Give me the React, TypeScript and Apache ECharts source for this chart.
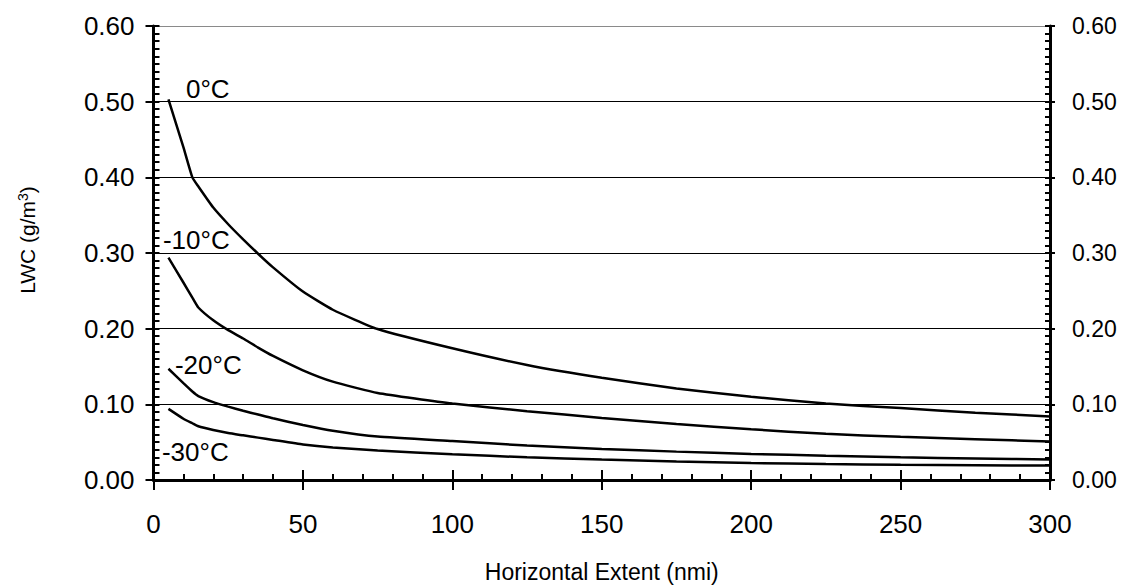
import React, { useEffect, useRef } from "react";
import * as echarts from "echarts";

const extent = [5, 10, 13, 15, 20, 25, 30, 35, 40, 50, 60, 75, 100, 125, 150, 175, 200, 225, 250, 275, 300];
const lwc0 = [0.503, 0.44, 0.4, 0.388, 0.36, 0.338, 0.318, 0.299, 0.281, 0.249, 0.225, 0.1995, 0.174, 0.152, 0.135, 0.121, 0.11, 0.101, 0.095, 0.089, 0.084];
const lwcM10 = [0.294, 0.261, 0.241, 0.228, 0.211, 0.198, 0.187, 0.175, 0.164, 0.145, 0.13, 0.115, 0.101, 0.091, 0.082, 0.074, 0.067, 0.061, 0.057, 0.054, 0.051];
const lwcM20 = [0.147, 0.128, 0.117, 0.111, 0.103, 0.097, 0.0915, 0.0865, 0.0815, 0.0728, 0.0652, 0.0575, 0.0515, 0.0455, 0.041, 0.0375, 0.0345, 0.032, 0.03, 0.0285, 0.027];
const lwcM30 = [0.094, 0.081, 0.075, 0.071, 0.066, 0.062, 0.059, 0.056, 0.053, 0.047, 0.043, 0.039, 0.034, 0.03, 0.027, 0.0245, 0.0225, 0.021, 0.02, 0.0195, 0.019];
const seriesNames = ["0°C", "-10°C", "-20°C", "-30°C"];
const seriesValues = [lwc0, lwcM10, lwcM20, lwcM30];
const labelOffsets: [number, number][] = [[17, -10], [-6, -18], [6, -4], [-7, 43]];

const FONT = "'Liberation Sans', Arial, sans-serif";

export default function App() {
  const ref = useRef<HTMLDivElement>(null);
  useEffect(() => {
    document.body.style.margin = "0";
    const chart = echarts.init(ref.current!, null, { renderer: "svg" });
    const yBase = { type: "value", min: 0, max: 0.6, interval: 0.1 };
    const xBase = { type: "value", min: 0, max: 300, interval: 50 };
    const lineStyle = { color: "#000", width: 3 };
    const option: any = {
      animation: false,
      backgroundColor: "#fff",
      grid: { left: 153.5, right: 76, top: 26, bottom: 102, containLabel: false },
      graphic: [
        {
          type: "text",
          x: 27,
          y: 240,
          rotation: Math.PI / 2,
          style: {
            text: "LWC (g/m{sup|3})",
            fill: "#000",
            fontSize: 21,
            fontFamily: FONT,
            align: "center",
            verticalAlign: "middle",
            rich: {
              sup: { fontSize: 14, fontFamily: FONT, fill: "#000", verticalAlign: "top", padding: [0, 0, 8, 0] },
            },
          },
        },
      ],
      xAxis: [
        {
          ...xBase,
          position: "bottom",
          axisLine: { show: true, onZero: false, lineStyle },
          axisTick: { show: true, inside: false, length: 10, lineStyle: { color: "#000", width: 2 } },
          minorTick: { show: false },
          axisLabel: { show: true, margin: 31, fontSize: 26, color: "#000", fontFamily: FONT },
          splitLine: { show: false },
          name: "Horizontal Extent (nmi)",
          nameLocation: "middle",
          nameGap: 80,
          nameTextStyle: { fontSize: 23, color: "#000", fontFamily: FONT },
        },
        {
          ...xBase,
          position: "bottom",
          axisLine: { show: false, onZero: false },
          axisTick: { show: true, inside: true, length: 10, lineStyle: { color: "#000", width: 2 } },
          minorTick: { show: true, splitNumber: 5, length: 6, lineStyle: { color: "#000", width: 2 } },
          axisLabel: { show: false },
          splitLine: { show: false },
        },
      ],
      yAxis: [
        {
          ...yBase,
          position: "left",
          axisLine: { show: true, onZero: false, lineStyle },
          axisTick: { show: true, inside: false, length: 8, lineStyle: { color: "#000", width: 2 } },
          axisLabel: {
            show: true, margin: 19, fontSize: 26, color: "#000", fontFamily: FONT,
            formatter: (v: number) => v.toFixed(2),
          },
          splitLine: {
            show: true,
            lineStyle: { color: ["#000", "#000", "#000", "#000", "#000", "#000", "#8a8a8a"], width: 1.2 },
          },
        },
        {
          ...yBase,
          position: "left",
          axisLine: { show: false, onZero: false },
          axisTick: { show: true, inside: true, length: 6, lineStyle: { color: "#000", width: 2 } },
          minorTick: { show: true, splitNumber: 10, length: 6, lineStyle: { color: "#000", width: 2 } },
          axisLabel: { show: false },
          splitLine: { show: false },
        },
        {
          ...yBase,
          position: "right",
          axisLine: { show: true, onZero: false, lineStyle },
          axisTick: { show: true, inside: false, length: 5, lineStyle: { color: "#000", width: 2 } },
          axisLabel: {
            show: true, margin: 22, fontSize: 23, color: "#000", fontFamily: FONT,
            formatter: (v: number) => v.toFixed(2),
          },
          splitLine: { show: false },
        },
        {
          ...yBase,
          position: "right",
          axisLine: { show: false, onZero: false },
          axisTick: { show: true, inside: true, length: 5, lineStyle: { color: "#000", width: 2 } },
          minorTick: { show: true, splitNumber: 10, length: 5, lineStyle: { color: "#000", width: 2 } },
          axisLabel: { show: false },
          splitLine: { show: false },
        },
      ],
      series: seriesValues.map((vals, i) => ({
        type: "line",
        name: seriesNames[i],
        xAxisIndex: 0,
        yAxisIndex: 0,
        showSymbol: false,
        smooth: 0.15,
        lineStyle: { color: "#000", width: 2.5 },
        data: extent.map((x, j) => [x, vals[j]]),
        markPoint: {
          symbol: "circle",
          symbolSize: 1,
          itemStyle: { color: "transparent" },
          data: [
            {
              coord: [extent[0], vals[0]],
              label: {
                show: true,
                formatter: seriesNames[i],
                position: "right",
                distance: 0,
                offset: labelOffsets[i],
                fontSize: 26,
                color: "#000",
                fontFamily: FONT,
              },
            },
          ],
        },
      })),
    };
    chart.setOption(option);
    return () => chart.dispose();
  }, []);
  return <div ref={ref} style={{ width: 1126, height: 588 }} />;
}
